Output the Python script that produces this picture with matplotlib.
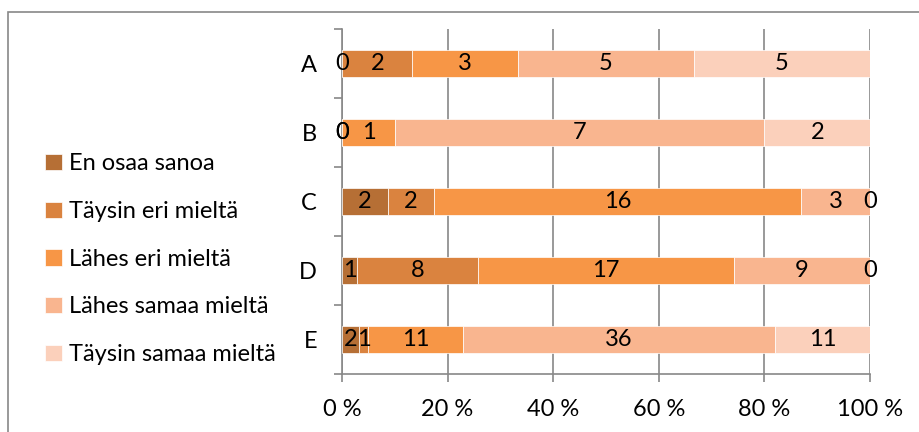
import matplotlib.pyplot as plt
import numpy as np
from matplotlib.patches import Rectangle

categories = ["A", "B", "C", "D", "E"]
series_names = ["En osaa sanoa", "Täysin eri mieltä", "Lähes eri mieltä",
                "Lähes samaa mieltä", "Täysin samaa mieltä"]
en_osaa = [0, 0, 2, 1, 2]
taysin_eri = [2, 0, 2, 8, 1]
lahes_eri = [3, 1, 16, 17, 11]
lahes_samaa = [5, 7, 3, 9, 36]
taysin_samaa = [5, 2, 0, 0, 11]
colors = ["#B66F35", "#DA833F", "#F79646", "#F9B58F", "#FBD0BB"]
xtick_labels = ["0 %", "20 %", "40 %", "60 %", "80 %", "100 %"]

plt.rcParams['font.family'] = ['Lato', 'DejaVu Sans']
fs = 17

counts = np.array([en_osaa, taysin_eri, lahes_eri, lahes_samaa, taysin_samaa], dtype=float)
totals = counts.sum(axis=0)
shares = counts / totals * 100

fig = plt.figure(figsize=(9.19, 4.32), dpi=100)
ax = fig.add_axes([342 / 919, 1 - 374 / 432, 528 / 919, 345 / 432])

# outer chart border
fig.patches.append(Rectangle((8 / 919, -0.1), 1.2, 1 - 12 / 432 + 0.1,
                             transform=fig.transFigure, fill=False,
                             edgecolor="#888888", linewidth=1.2))

y = np.arange(len(categories))
left = np.zeros(len(categories))
handles = []
for i, name in enumerate(series_names):
    bars = ax.barh(y, shares[i], left=left, height=0.39, color=colors[i],
                   edgecolor="white", linewidth=0.5, label=name, zorder=3)
    handles.append(bars)
    for j in range(len(categories)):
        ax.text(left[j] + shares[i][j] / 2, y[j], "%d" % counts[i][j],
                ha="center", va="center", fontsize=fs, color="black", zorder=4)
    left += shares[i]

ax.set_xlim(0, 100)
ax.set_ylim(len(categories) - 0.5, -0.5)
ax.set_xticks(np.arange(0, 101, 20))
ax.set_xticklabels(xtick_labels, fontsize=fs)
ax.set_yticks(y)
ax.set_yticklabels(categories, fontsize=fs)
ax.set_yticks(np.arange(-0.5, len(categories), 1), minor=True)
ax.tick_params(axis="y", which="major", length=0, pad=18)
ax.tick_params(axis="y", which="minor", length=6, color="#888888", width=1.2)
ax.tick_params(axis="x", length=6, color="#888888", width=1.2, pad=12)
ax.grid(axis="x", color="#888888", linewidth=1.2, zorder=0)
for s in ["top", "right"]:
    ax.spines[s].set_visible(False)
for s in ["left", "bottom"]:
    ax.spines[s].set_color("#888888")
    ax.spines[s].set_linewidth(1.2)

fig.legend(handles=handles, loc="upper left", bbox_to_anchor=(36 / 919, 1 - 144 / 432),
           frameon=False, fontsize=fs, handlelength=0.7, handleheight=0.7,
           handletextpad=0.3, labelspacing=1.13, borderaxespad=0)

plt.savefig("out.png")
